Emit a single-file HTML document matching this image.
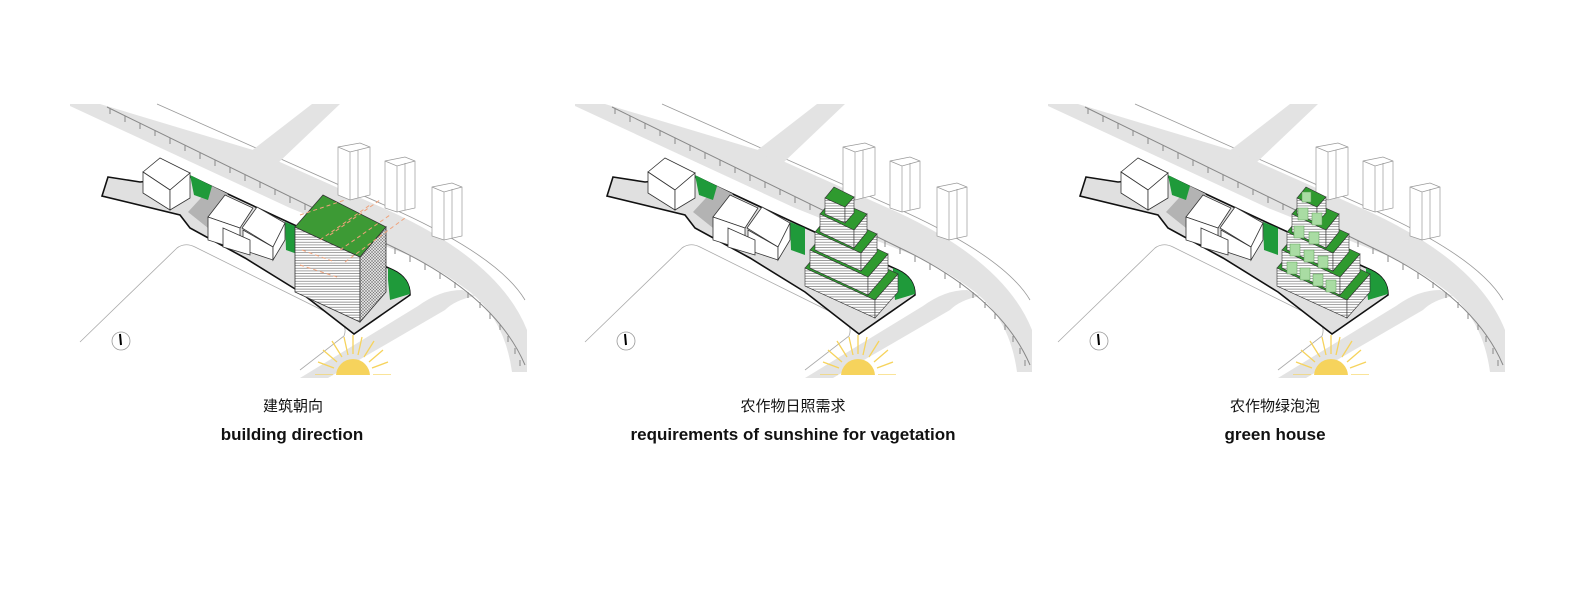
<!DOCTYPE html>
<html><head><meta charset="utf-8"><style>
html,body{margin:0;padding:0;background:#fff;width:1582px;height:589px;overflow:hidden}
svg{display:block}
</style></head><body>
<svg width="1582" height="589" viewBox="0 0 1582 589" xmlns="http://www.w3.org/2000/svg">
<defs>
<pattern id="hz" width="4" height="2.6" patternUnits="userSpaceOnUse"><rect width="4" height="2.6" fill="#fff"/><line x1="0" y1="0.5" x2="4" y2="0.5" stroke="#777" stroke-width="0.7"/></pattern>
<pattern id="xh" width="3" height="3" patternUnits="userSpaceOnUse"><rect width="3" height="3" fill="#ddd"/><path d="M0 0L3 3M3 0L0 3" stroke="#777" stroke-width="0.5"/></pattern>
<clipPath id="sunclip"><rect x="0" y="0" width="600" height="375"/></clipPath>
<g id="base">
  <!-- top band -->
  <path d="M70,104 L100,104 L253,150 L392,212 Q500,262 527,330 L527,372 L512,372 Q505,320 470,292 Q430,262 395,250 L290,208 L70,106 Z" fill="#e3e3e3"/>
  <path d="M157,104 L400,212 Q500,258 525,300" fill="none" stroke="#999" stroke-width="0.8"/>
  <path d="M250,152 L312,104 L340,104 L278,163 Z" fill="#e3e3e3"/>
  <!-- lower diagonal strip -->
  <path d="M300,378 L418,306 Q440,290 462,290 L475,296 Q455,300 445,310 L328,378 Z" fill="#e3e3e3"/>
  <!-- fence -->
  <path d="M107,107 L393,247 Q495,295 525,365" fill="none" stroke="#888" stroke-width="1"/>
  <path d="M110,108v6M125,116v6M140,123v6M155,130v6M170,138v6M185,145v6M200,153v6M215,160v6M230,167v6M245,175v6M260,182v6M275,189v6M290,197v6M305,204v6M320,211v6M335,219v6M350,226v6M365,233v6M380,241v6M395,248v6M410,256v6M425,264v6M440,273v6M455,282v6M468,292v6M480,302v6M490,313v6M500,324v6M508,336v6M515,348v6M520,360v6" stroke="#888" stroke-width="1"/>
  <!-- lower-left lot -->
  <path d="M80,342 L177,248 Q185,242 195,247 L338,318 Q348,326 344,336 L300,370" fill="none" stroke="#aaa" stroke-width="0.8"/>
  <!-- compass -->
  <circle cx="121" cy="341" r="9" fill="#fff" stroke="#999" stroke-width="0.8"/>
  <line x1="120" y1="334" x2="121" y2="345" stroke="#000" stroke-width="2"/>
  <!-- site -->
  <path d="M108,177 L140,182 L192,177 L215,188 L290,223 L393,270 Q410,278 410,295 L354,334 L300,292 L245,258 L190,228 L180,215 L102,196 Z" fill="#e0e0e0" stroke="#111" stroke-width="1.6"/>
  <path d="M188,212 L212,186 L228,194 L208,228 Z" fill="#b3b3b3"/>
  <path d="M190,175 L212,186 L208,200 L194,195 Z" fill="#1f9a3a"/>
  <path d="M285,222 L300,228 L300,255 L286,250 Z" fill="#1f9a3a"/>
  <path d="M388,268 Q410,276 410,294 L390,300 L388,280 Z" fill="#1f9a3a"/>
  <!-- small buildings -->
  <g fill="#fff" stroke="#333" stroke-width="0.8">
    <path d="M143,172 L160,158 L190,173 L170,190 Z"/>
    <path d="M143,172 L170,190 L170,210 L143,193 Z"/>
    <path d="M170,190 L190,173 L190,198 L170,210 Z"/>
    <path d="M208,217 L225,195 L253,208 L240,228 Z"/>
    <path d="M208,217 L240,228 L240,250 L208,240 Z"/>
    <path d="M242,228 L257,207 L285,223 L273,247 Z"/>
    <path d="M243,230 L273,247 L273,260 L243,250 Z"/>
    <path d="M273,247 L285,223 L285,240 L273,260 Z"/>
    <path d="M223,228 L250,240 L250,255 L223,247 Z"/>
  </g>
  <!-- residential towers -->
  <g fill="#fff" stroke="#999" stroke-width="0.7">
    <path d="M338,147 L360,143 L370,147 L370,195 L350,200 L338,195 Z"/><path d="M350,152 L350,200 M358,150 L358,198 M338,147 L350,152 L370,147"/>
    <path d="M385,161 L405,157 L415,161 L415,208 L397,212 L385,208 Z"/><path d="M397,166 L397,212 M405,163 L405,210 M385,161 L397,166 L415,161"/>
    <path d="M432,187 L452,183 L462,187 L462,236 L444,240 L432,236 Z"/><path d="M444,192 L444,240 M452,189 L452,238 M432,187 L444,192 L462,187"/>
  </g>
  <!-- sun -->
  <g clip-path="url(#sunclip)">
    <g stroke="#f6d35c" stroke-width="1.3">
      <path d="M333,375 L315,375 M334,368 L318,362 M337,362 L323,350 M342,357 L332,341 M348,355 L344,337 M353,354 L353,335 M358,355 L362,337 M364,357 L374,341 M369,362 L383,350 M372,368 L388,362 M373,375 L391,375"/>
    </g>
    <circle cx="353" cy="376" r="17" fill="#f6d35c"/>
  </g>
</g>
<g id="pyr">
  <g stroke="#333" stroke-width="0.6">
  <path d="M330,296 L360,312 L372,300 L345,290 Z" fill="#6fb8c8"/>
  <path d="M295,268 L365,300 L365,318 L295,286 Z" fill="url(#hz)"/><path d="M365,300 L388,274 L388,292 L365,318 Z" fill="url(#hz)"/><path d="M295,268 L365,300 L388,274 L318,241 Z" fill="#2f9a2f"/>
  <path d="M300,250 L358,277 L358,295 L300,268 Z" fill="url(#hz)"/><path d="M358,277 L378,254 L378,272 L358,295 Z" fill="url(#hz)"/><path d="M300,250 L358,277 L378,254 L320,227 Z" fill="#2f9a2f"/>
  <path d="M305,232 L351,253 L351,271 L305,250 Z" fill="url(#hz)"/><path d="M351,253 L367,234 L367,252 L351,271 Z" fill="url(#hz)"/><path d="M305,232 L351,253 L367,234 L321,213 Z" fill="#2f9a2f"/>
  <path d="M310,214 L344,230 L344,248 L310,232 Z" fill="url(#hz)"/><path d="M344,230 L357,214 L357,232 L344,248 Z" fill="url(#hz)"/><path d="M310,214 L344,230 L357,214 L323,199 Z" fill="#2f9a2f"/>
  <path d="M315,198 L335,207 L335,223 L315,214 Z" fill="url(#hz)"/><path d="M335,207 L344,197 L344,213 L335,223 Z" fill="url(#hz)"/><path d="M315,198 L335,207 L344,197 L324,187 Z" fill="#2f9a2f"/>
  </g>
</g>
</defs>

<!-- Panel 1 -->
<use href="#base"/>
<g stroke="#333" stroke-width="0.8">
  <path d="M295,227 L360,257 L360,322 L295,292 Z" fill="url(#hz)"/>
  <path d="M360,257 L386,227 L386,292 L360,322 Z" fill="url(#xh)"/>
  <path d="M295,227 L323,195 L386,227 L360,257 Z" fill="#3d9a35"/>
</g>
<g stroke="#f0a27a" stroke-width="1" stroke-dasharray="4,3" fill="none">
  <path d="M300,215 L345,200 M320,240 L370,205 M340,250 L390,215 M330,235 L380,200 M345,262 L405,218 M302,250 L335,262 M300,265 L340,278"/>
</g>

<!-- Panel 2 -->
<use href="#base" transform="translate(505,0)"/>
<use href="#pyr" transform="translate(510,0)"/>

<!-- Panel 3 -->
<use href="#base" transform="translate(978,0)"/>
<g transform="translate(982,0)">
  <use href="#pyr"/>
  <g fill="#a9dca3" stroke="#5a9a55" stroke-width="0.5">
    <rect x="305" y="262" width="10" height="12"/><rect x="318" y="268" width="10" height="12"/><rect x="331" y="274" width="10" height="12"/><rect x="344" y="280" width="10" height="12"/>
    <rect x="308" y="244" width="10" height="12"/><rect x="322" y="250" width="10" height="12"/><rect x="336" y="256" width="10" height="12"/>
    <rect x="312" y="226" width="10" height="12"/><rect x="327" y="232" width="10" height="12"/>
    <rect x="316" y="208" width="10" height="12"/><rect x="330" y="213" width="10" height="12"/>
    <rect x="320" y="192" width="9" height="10"/>
  </g>
</g>

<!-- Labels -->
<g font-family="'Liberation Sans','Noto Sans CJK SC',sans-serif" text-anchor="middle" fill="#111">
  <text x="293" y="411" font-size="15">建筑朝向</text>
  <text x="292" y="440" font-size="17" font-weight="bold">building direction</text>
  <text x="793" y="411" font-size="15">农作物日照需求</text>
  <text x="793" y="440" font-size="17" font-weight="bold">requirements of sunshine for vagetation</text>
  <text x="1275" y="411" font-size="15">农作物绿泡泡</text>
  <text x="1275" y="440" font-size="17" font-weight="bold">green house</text>
</g>
</svg>
</body></html>
